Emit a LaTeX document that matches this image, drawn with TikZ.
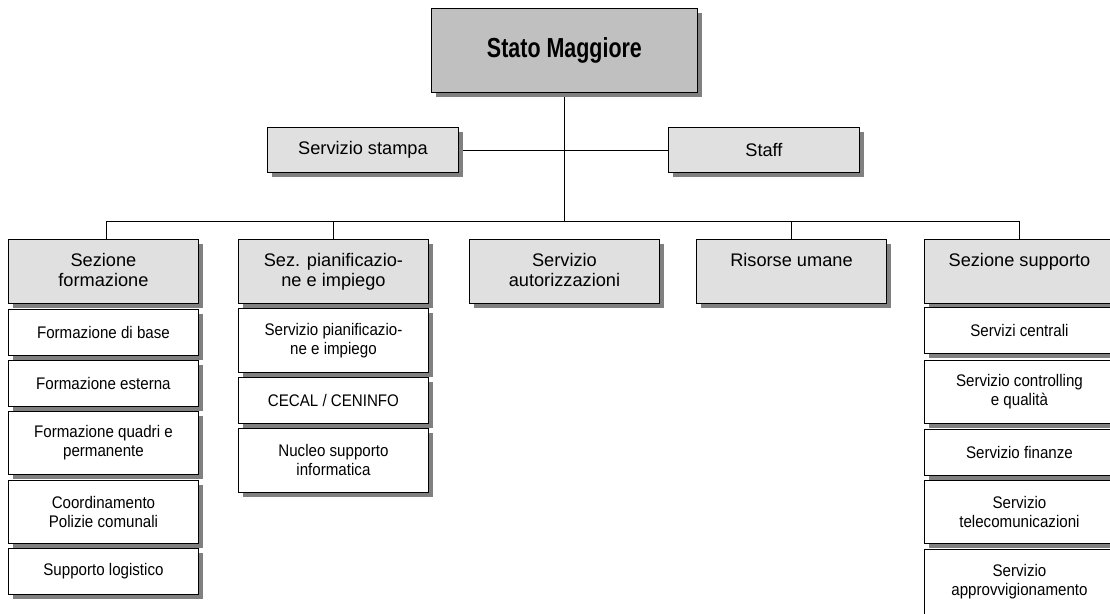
\documentclass[tikz,border=0pt]{standalone}
\usepackage{fontspec}
\setmainfont{Liberation Sans}
\newfontfamily\famMid{Liberation Sans}
\newfontfamily\famSub[FakeStretch=0.9]{Liberation Sans}
\newfontfamily\famTitle[FakeStretch=0.78]{Liberation Sans}
\newcommand\fTitle{\famTitle\bfseries\fontsize{27.5}{32}\selectfont}
\newcommand\fMid{\famMid\fontsize{18.2}{20.5}\selectfont}
\newcommand\fSub{\famSub\fontsize{16.8}{19}\selectfont}
\usetikzlibrary{shadows,backgrounds}
\definecolor{topgray}{HTML}{C0C0C0}
\definecolor{midgray}{HTML}{E0E0E0}
\definecolor{shadowgray}{HTML}{808080}
\tikzset{
  box/.style={draw=black, line width=0.9pt, rectangle, inner sep=0pt, anchor=north west,
    drop shadow={shadow xshift=5pt, shadow yshift=-5pt, fill=shadowgray, opacity=1}},
  topbox/.style={box, fill=topgray, minimum width=266pt, minimum height=84pt, font=\fTitle},
  sidebox/.style={box, fill=midgray, minimum width=191pt, minimum height=45pt, font=\fMid},
  midbox/.style={box, fill=midgray, minimum width=190pt, minimum height=64pt},
  midtext/.style={anchor=north, inner sep=0pt, align=center, font=\fMid, yshift=-14pt},
  subbox/.style={box, fill=white, minimum width=190pt, font=\fSub, align=center},
  one/.style={minimum height=46pt},
  two/.style={minimum height=63pt},
  link/.style={draw=black, line width=0.9pt}
}
\begin{document}
\begin{tikzpicture}[x=1pt,y=-1pt]
\useasboundingbox (0,0) rectangle (1110,613);
\clip (0,0) rectangle (1110,613);

% top level
\node[topbox] (sm) at (431,8) {Stato Maggiore};
\node[sidebox] (ss) at (267,127) {Servizio stampa};
\node[sidebox] (st) at (668,127) {Staff};

% second level
\node[midbox] (sf) at (8,239) {};
\node[midtext] (sft) at (sf.north) {Sezione\\formazione};
\node[midbox] (sp) at (238,239) {};
\node[midtext] (spt) at (sp.north) {Sez. pianificazio-\\ne e impiego};
\node[midbox] (sa) at (469,239) {};
\node[midtext] (sat) at (sa.north) {Servizio\\autorizzazioni};
\node[midbox] (ru) at (696,239) {};
\node[midtext] (rut) at (ru.north) {Risorse umane};
\node[midbox] (su) at (924,239) {};
\node[midtext] (sut) at (su.north) {Sezione supporto};

% left column
\node[subbox,one] (f1) at (8,309) {Formazione di base};
\node[subbox,one] (f2) at (8,360) {Formazione esterna};
\node[subbox,two] (f3) at (8,411) {Formazione quadri e\\permanente};
\node[subbox,two] (f4) at (8,480) {Coordinamento\\Polizie comunali};
\node[subbox,one] (f5) at (8,548) {Supporto logistico};

% middle column
\node[subbox,minimum height=64pt] (p1) at (238,308) {Servizio pianificazio-\\ne e impiego};
\node[subbox,one] (p2) at (238,377) {CECAL / CENINFO};
\node[subbox,minimum height=64pt] (p3) at (238,428) {Nucleo supporto\\informatica};

% right column
\node[subbox,one] (r1) at (924,307) {Servizi centrali};
\node[subbox,two] (r2) at (924,360) {Servizio controlling\\e qualità};
\node[subbox,one] (r3) at (924,429) {Servizio finanze};
\node[subbox,two] (r4) at (924,480) {Servizio\\telecomunicazioni};
\node[subbox,minimum height=65pt] (r5) at (924,549) {Servizio\\approvvigionamento};

% connectors
\coordinate (j) at (sm.south |- 0,221);
\begin{scope}[on background layer]
  \draw[link] (sm.south) -- (j);
  \draw[link] (ss.east) -- (ss.east -| sm.south);
  \draw[link] (st.west) -- (st.west -| sm.south);
  \draw[link] ([xshift=3pt]sf.north |- j) -- (su.north |- j);
  \draw[link] ([xshift=3pt]sf.north |- j) -- ([xshift=3pt]sf.north);
  \foreach \n in {sp,ru,su} {
    \draw[link] (\n.north |- j) -- (\n.north);
  }
\end{scope}
\end{tikzpicture}
\end{document}
